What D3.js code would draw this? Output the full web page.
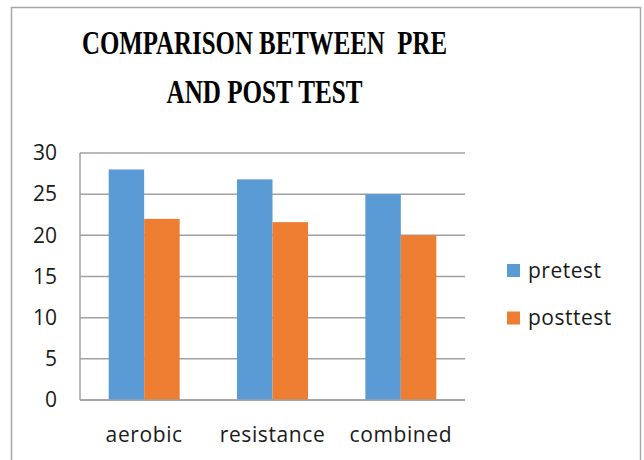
<!DOCTYPE html>
<html>
<head>
<meta charset="utf-8">
<script src="https://cdn.jsdelivr.net/npm/d3@7"></script>
<style>
  html, body { margin: 0; padding: 0; background: #fff; }
  svg { display: block; }
  .title { white-space: pre; }
</style>
</head>
<body>
<svg id="chart" width="644" height="460"></svg>
<script>
const categories = ["aerobic", "resistance", "combined"];
const seriesNames = ["pretest", "posttest"];
const pretest = [28, 26.8, 25];
const posttest = [22, 21.6, 20];
const yTicks = [0, 5, 10, 15, 20, 25, 30];
const titleLines = ["COMPARISON BETWEEN  PRE", "AND POST TEST"];
const colors = ["#5B9BD5", "#ED7D31"];

const svg = d3.select("#chart");
const W = 644, H = 460;
const plot = { left: 80, right: 465, top: 153, bottom: 400 };

// outer frame
svg.append("path")
  .attr("d", `M11.5,${H} V7.5 H640.5 V${H}`)
  .attr("fill", "none").attr("stroke", "#a6a6a6").attr("stroke-width", 1.5);

// title
const titleFont = "'Liberation Serif', 'Times New Roman', serif";
const titleSpecs = [{ y: 54, len: 365 }, { y: 103, len: 196 }];
titleLines.forEach((t, i) => {
  svg.append("text")
    .attr("class", "title")
    .attr("x", 264.5).attr("y", titleSpecs[i].y)
    .attr("text-anchor", "middle")
    .attr("font-family", titleFont)
    .attr("font-weight", "bold")
    .attr("font-size", 34)
    .attr("textLength", titleSpecs[i].len)
    .attr("lengthAdjust", "spacingAndGlyphs")
    .attr("fill", "#000")
    .text(t);
});

const x = d3.scaleBand().domain(categories)
  .range([plot.left, plot.right])
  .paddingInner(0.447).paddingOuter(0.2235);
const xs = d3.scaleBand().domain(seriesNames).range([0, x.bandwidth()]);
const y = d3.scaleLinear().domain([0, 30]).range([plot.bottom, plot.top]);

const sansFont = "'Open Sans', 'Noto Sans', sans-serif";

// gridlines
svg.append("g").selectAll("line").data(yTicks).join("line")
  .attr("x1", plot.left).attr("x2", plot.right)
  .attr("y1", d => y(d)).attr("y2", d => y(d))
  .attr("stroke", "#a0a0a0").attr("stroke-width", 1.5);
// left plot edge
svg.append("line")
  .attr("x1", plot.left).attr("x2", plot.left)
  .attr("y1", y(30)).attr("y2", y(0))
  .attr("stroke", "#a0a0a0").attr("stroke-width", 1.5);

// y axis labels
const yAxis = d3.axisLeft(y).tickValues(yTicks).tickSize(0).tickPadding(23);
const yg = svg.append("g").attr("transform", `translate(${plot.left},0)`).call(yAxis);
yg.select(".domain").remove();
yg.selectAll("text")
  .attr("font-family", sansFont).attr("font-size", 21).attr("fill", "#1a1a1a");

// bars
const data = categories.map((c, i) => ({ cat: c, values: [pretest[i], posttest[i]] }));
const groups = svg.append("g").selectAll("g").data(data).join("g")
  .attr("transform", d => `translate(${x(d.cat)},0)`);
groups.selectAll("rect").data(d => d.values.map((v, j) => ({ s: seriesNames[j], v, j })))
  .join("rect")
  .attr("x", d => xs(d.s))
  .attr("width", xs.bandwidth())
  .attr("y", d => y(d.v))
  .attr("height", d => y(0) - y(d.v))
  .attr("fill", d => colors[d.j]);

// bottom axis line on top
svg.append("line")
  .attr("x1", plot.left).attr("x2", plot.right)
  .attr("y1", y(0)).attr("y2", y(0))
  .attr("stroke", "#a0a0a0").attr("stroke-width", 1.5);

// x labels
const xAxis = d3.axisBottom(x).tickSize(0).tickPadding(27);
const xg = svg.append("g").attr("transform", `translate(0,${plot.bottom})`).call(xAxis);
xg.select(".domain").remove();
xg.selectAll("text")
  .attr("font-family", sansFont).attr("font-size", 21)
  .attr("letter-spacing", "0.6px").attr("fill", "#1a1a1a");

// legend
const legend = svg.append("g").selectAll("g").data(seriesNames).join("g")
  .attr("transform", (d, i) => `translate(507,${264 + i * 47.5})`);
legend.append("rect").attr("width", 13).attr("height", 13)
  .attr("fill", (d, i) => colors[i]);
legend.append("text").attr("x", 21).attr("y", 6.5).attr("dy", "0.35em")
  .attr("font-family", sansFont).attr("font-size", 21)
  .attr("letter-spacing", "0.5px").attr("fill", "#1a1a1a")
  .text(d => d);
</script>
</body>
</html>
